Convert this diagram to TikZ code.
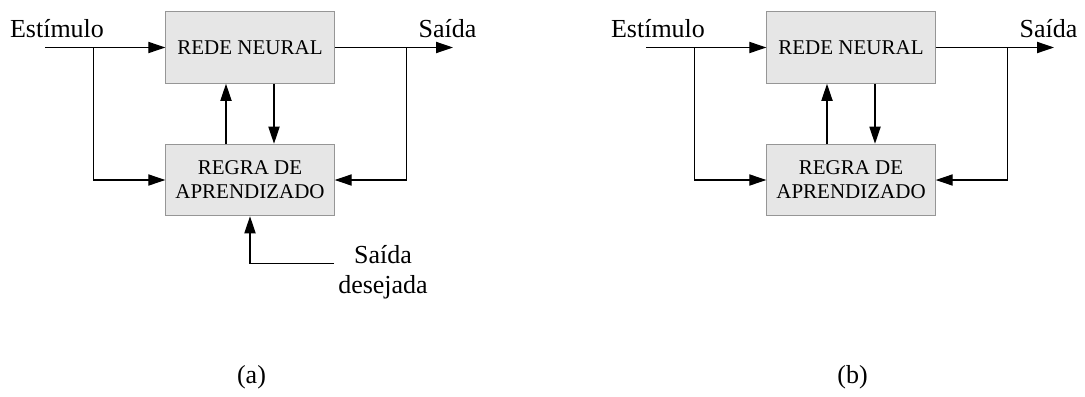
\documentclass[tikz,border=0pt]{standalone}
\usepackage{fontspec}
\setmainfont{Liberation Serif}
\usetikzlibrary{arrows.meta}
\definecolor{boxfill}{RGB}{230,230,230}
\definecolor{boxline}{RGB}{150,150,150}
\tikzset{
	block/.style={draw=boxline, fill=boxfill, line width=0.5pt, minimum width=84.2pt, minimum height=35.8pt, inner sep=0pt, align=center, font=\fontsize{10.5}{12}\selectfont},
	wire/.style={line width=0.6pt},
	arr/.style={wire, -{Triangle[length=8.5pt,width=5.6pt]}},
	lbl/.style={font=\fontsize{13}{15}\selectfont, inner sep=0pt}
}
\begin{document}
\begin{tikzpicture}[x=0.5pt, y=-0.5pt]
	\useasboundingbox (0,0) rectangle (1085,396);
	\foreach \p/\dx in {a/0, b/601}{
	\begin{scope}[xshift=\dx*0.5pt]
	\node[block] (nn\p) at (250,47.5) {REDE NEURAL};
	\node[block] (rule\p) at (250,180) {REGRA DE\\APRENDIZADO};
	\coordinate (in\p) at (45,47.5);       % input line start
	\coordinate (sin\p) at (93.3,47.5);    % input branch
	\coordinate (sout\p) at (406.7,47.5);  % output branch
	\coordinate (out\p) at (453,47.5);
	\node[lbl, anchor=base] (stim\p) at (57,37.7) {Estímulo};
	\node[lbl, anchor=base] (exit\p) at (447.5,37.7) {Saída};
	\node[lbl, anchor=base] (tag\p) at (251.5,383) {(\p)};
	\draw[arr] (in\p) -- (nn\p);
	\draw[arr] (sin\p) |- (rule\p);
	\draw[arr] (nn\p) -- (out\p);
	\draw[arr] (sout\p) |- (rule\p);
	\draw[arr] ([xshift=-12pt]rule\p.north) -- ([xshift=-12pt]nn\p.south);
	\draw[arr] ([xshift=12pt]nn\p.south) -- ([xshift=12pt]rule\p.north);
	\end{scope}
	}
	% desired output, only in (a)
	\coordinate (want) at (334,263.3);
	\node[lbl, align=center, anchor=north] (wantlbl) at (383,245) {Saída\\desejada};
	\draw[arr] (want) -| (rulea);
\end{tikzpicture}
\end{document}
